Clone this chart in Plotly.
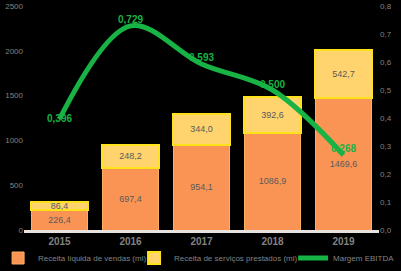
import plotly.graph_objects as go

# Categories and series
years = ["2015", "2016", "2017", "2018", "2019"]
vendas = [226.4, 697.4, 954.1, 1086.9, 1469.6]
servicos = [86.4, 248.2, 344.0, 392.6, 542.7]
margem = [0.396, 0.729, 0.593, 0.500, 0.268]

name_vendas = "Receita líquida de vendas (mi)"
name_servicos = "Receita de serviços prestados (mi)"
name_margem = "Margem EBITDA"

ORANGE = "#F99455"
LIGHT = "#FFD46E"
YELLOW = "#FFE21A"
GREEN = "#17B344"
GREY = "#828282"
FONT = "Liberation Sans, Arial, sans-serif"

fig = go.Figure()

fig.add_trace(go.Bar(
    x=years, y=vendas, name=name_vendas, legend="legend",
    marker=dict(color=ORANGE, line=dict(color="#FBB060", width=1)),
    texttemplate="%{y:.1f}", textposition="inside", insidetextanchor="middle",
    textfont=dict(color="#5a5a5a", size=9, family=FONT),
    constraintext="none",
))
fig.add_trace(go.Bar(
    x=years, y=servicos, name=name_servicos, legend="legend2",
    marker=dict(color=LIGHT, line=dict(color=YELLOW, width=2)),
    texttemplate="%{y:.1f}", textposition="inside", insidetextanchor="middle",
    textfont=dict(color="#5a5a5a", size=9, family=FONT),
    constraintext="none",
))
fig.add_trace(go.Scatter(
    x=years, y=margem, name=name_margem, yaxis="y2", legend="legend3",
    mode="lines+text", line=dict(color=GREEN, width=5, shape="spline", smoothing=1.0),
    texttemplate="%{y:.3f}",
    textposition=["middle center", "top center", "top center", "top center", "top center"],
    textfont=dict(color=GREEN, size=10, family=FONT, weight="bold"),
    cliponaxis=False,
))

# One legend box per series, laid out in a single row under the axis
legend_common = dict(orientation="h", xanchor="left", y=-0.125, yanchor="middle",
                     font=dict(size=8, color=GREY), itemwidth=30,
                     bgcolor="rgba(0,0,0,0)")

fig.update_layout(
    width=401, height=271,
    margin=dict(l=24, r=22, t=6, b=41, autoexpand=False),
    paper_bgcolor="black", plot_bgcolor="black",
    barmode="stack", bargap=0.2,
    separators=", ",
    font=dict(family=FONT, color=GREY, size=9),
    showlegend=True,
    legend=dict(x=-0.073, **legend_common),
    legend2=dict(x=0.31, **legend_common),
    legend3=dict(x=0.758, **legend_common),
    xaxis=dict(showgrid=False, showline=True, linecolor="#e9e3df", linewidth=3,
               ticks="", tickfont=dict(size=10, color=GREY, weight="bold"),
               zeroline=False),
    yaxis=dict(range=[0, 2500], dtick=500, tickformat="d", showgrid=False,
               zeroline=False, showline=False, ticks="",
               tickfont=dict(size=8, color=GREY)),
    yaxis2=dict(range=[0, 0.8], dtick=0.1, tickformat=".1f", overlaying="y",
                side="right", showgrid=False, zeroline=False, showline=False,
                ticks="", tickfont=dict(size=8, color=GREY)),
)

fig.write_html("out.html")
